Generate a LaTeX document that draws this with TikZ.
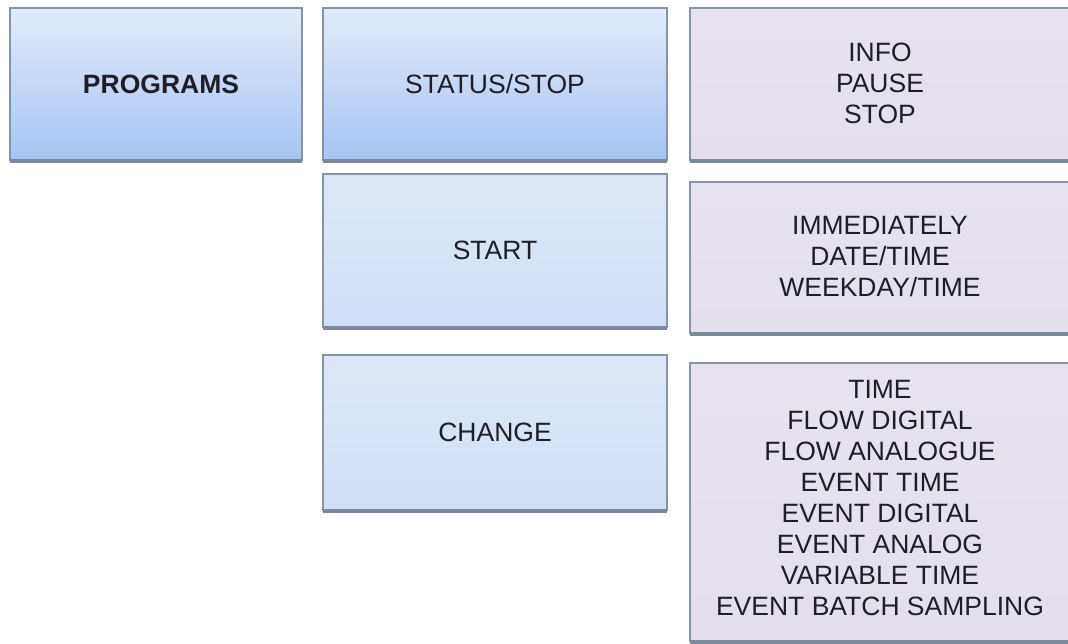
\documentclass[tikz,border=0pt]{standalone}
\usepackage{fontspec}
\setmainfont{Liberation Sans}
\begin{document}
\begin{tikzpicture}[x=1pt,y=-1pt,
  every node/.style={inner sep=0pt, outer sep=0pt, align=center, text=textc,
     font=\fontsize{26.5}{31}\selectfont},
  boxbase/.style={draw=bordc, line width=1.3pt, rectangle},
  bluegrad/.style={boxbase, top color=bluetop, bottom color=bluebot},
  bluelite/.style={boxbase, top color=litetop, bottom color=litebot},
  lavbox/.style={boxbase, top color=lavtop, bottom color=lavbot},
  shadowline/.style={draw=shadc, line width=4pt}
]
\definecolor{textc}{HTML}{1E1E2A}
\definecolor{bordc}{HTML}{8593AB}
\definecolor{shadc}{HTML}{7C889C}
\definecolor{bluetop}{HTML}{E2EBFA}
\definecolor{bluebot}{HTML}{A6C5F3}
\definecolor{litetop}{HTML}{DEE7F7}
\definecolor{litebot}{HTML}{CFDFF8}
\definecolor{lavtop}{HTML}{E6E3EE}
\definecolor{lavbot}{HTML}{E3E0EC}
\clip (0,0) rectangle (1068,643);
\fill[white] (0,0) rectangle (1068,643);
% left column
\node[bluegrad, minimum width=292, minimum height=152] (prog) at (156,84) {};
\node at (161,84) (progt) {\bfseries PROGRAMS};
% middle column
\node[bluegrad, minimum width=344, minimum height=152] (stat) at (495,84) {STATUS/STOP};
\node[bluelite, minimum width=344, minimum height=153] (start) at (495,250.5) {START};
\node[bluelite, minimum width=344, minimum height=155] (chg) at (495,432.5) {CHANGE};
% right column
\node[lavbox, minimum width=385, minimum height=152] (r1) at (882.5,84) {};
\node at (880,83) (r1t) {INFO\\PAUSE\\STOP};
\node[lavbox, minimum width=385, minimum height=151] (r2) at (882.5,257.5) {};
\node at (880,257) (r2t) {IMMEDIATELY\\DATE/TIME\\WEEKDAY/TIME};
\node[lavbox, minimum width=385, minimum height=278] (r3) at (882.5,502) {};
\node at (880,498.5) (r3t) {TIME\\FLOW DIGITAL\\FLOW ANALOGUE\\EVENT TIME\\EVENT DIGITAL\\EVENT ANALOG\\VARIABLE TIME\\EVENT BATCH SAMPLING};
% bottom shadows
\foreach \n in {prog,stat,start,chg,r1,r2,r3}{
  \draw[shadowline] ([yshift=-1pt]\n.south west) -- ([yshift=-1pt]\n.south east);
}
\end{tikzpicture}
\end{document}
